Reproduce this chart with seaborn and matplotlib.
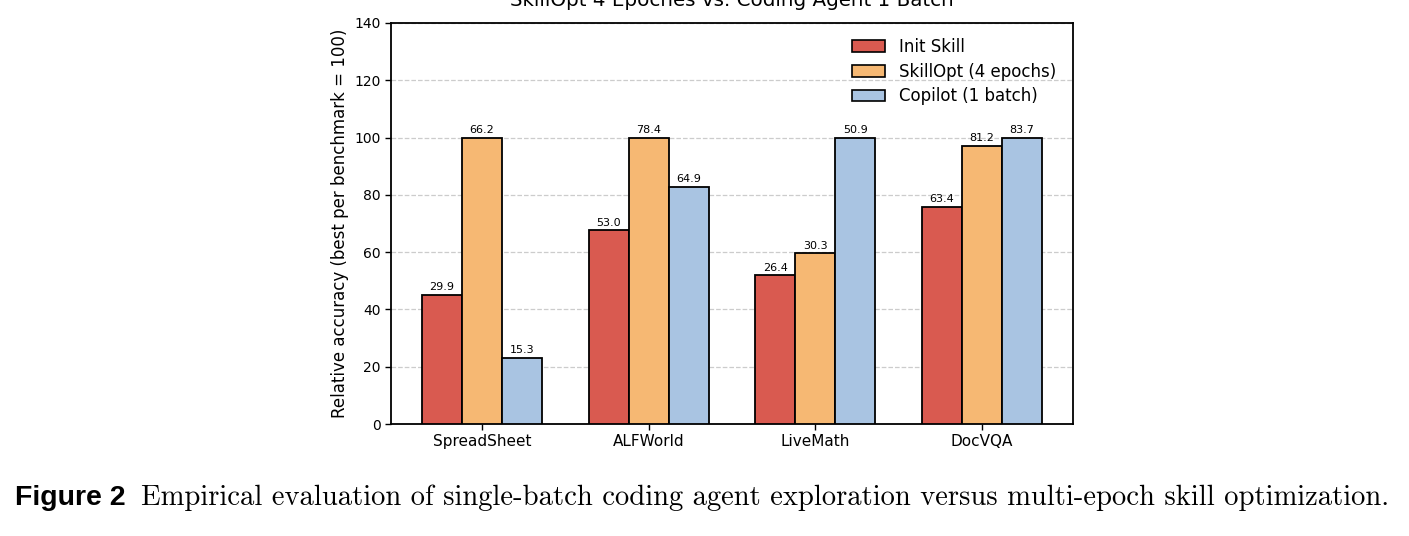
import numpy as np
import pandas as pd
import matplotlib
matplotlib.use("Agg")
import matplotlib.pyplot as plt
import seaborn as sns

benchmarks = ["SpreadSheet", "ALFWorld", "LiveMath", "DocVQA"]
methods = ["Init Skill", "SkillOpt (4 epochs)", "Copilot (1 batch)"]
init_skill = [29.9, 53.0, 26.4, 63.4]
skillopt = [66.2, 78.4, 30.3, 81.2]
copilot = [15.3, 64.9, 50.9, 83.7]
colors = ["#d95a50", "#f6b873", "#a9c4e2"]

raw = np.array([init_skill, skillopt, copilot])
best = raw.max(axis=0)
rel = raw / best * 100

rows = []
for mi, m in enumerate(methods):
    for bi, b in enumerate(benchmarks):
        rows.append({"benchmark": b, "method": m, "rel": rel[mi, bi], "raw": raw[mi, bi]})
df = pd.DataFrame(rows)

sns.set_style("white")
plt.rcParams["font.family"] = ["DejaVu Sans"]
for k in ["text.color", "axes.labelcolor", "xtick.color", "ytick.color", "axes.edgecolor"]:
    plt.rcParams[k] = "black"

fig = plt.figure(figsize=(14.09, 5.36), dpi=100)
ax = fig.add_axes([391/1409, 1-424/536, (1073-391)/1409, (424-23)/536])

sns.barplot(data=df, x="benchmark", y="rel", hue="method", hue_order=methods,
            order=benchmarks, palette=colors, width=0.72, gap=0,
            edgecolor="black", linewidth=1.3, saturation=1, errorbar=None, ax=ax, zorder=3)

for ci, cont in enumerate(ax.containers):
    labels = [f"{v:.1f}" for v in raw[ci]]
    ax.bar_label(cont, labels=labels, padding=2, fontsize=8, color="black")

ax.set_xlim(-0.546, 3.546)
ax.set_ylim(0, 140)
ax.set_yticks(np.arange(0, 141, 20))
ax.yaxis.grid(True, linestyle="--", color="#cccccc", linewidth=0.9, zorder=0)
ax.set_axisbelow(True)
ax.set_xlabel("")
ax.set_ylabel("Relative accuracy (best per benchmark = 100)", fontsize=12)
ax.tick_params(axis="y", labelsize=10, length=4, width=1, left=True)
ax.tick_params(axis="x", labelsize=11, length=4, width=1, bottom=True)
for s in ax.spines.values():
    s.set_visible(True)
    s.set_linewidth(1.3)
    s.set_color("black")
ax.set_title("SkillOpt 4 Epoches vs. Coding Agent 1 Batch", fontsize=14.3, pad=12)

leg = ax.legend(loc="upper right", frameon=False, fontsize=12, labelspacing=0.4,
                bbox_to_anchor=(0.997, 1.0))
for h in leg.legend_handles:
    h.set_edgecolor("black")
    h.set_linewidth(1.2)

fig.text(15/1409, 1-505/536, "Figure 2", fontsize=20.5, fontweight="bold",
         family="Liberation Sans", va="baseline", ha="left")
fig.text(141/1409, 1-505/536,
         "Empirical evaluation of single-batch coding agent exploration versus multi-epoch skill optimization.",
         fontsize=20.6, family="cmr10", va="baseline", ha="left")

fig.savefig("out.png", dpi=100)
